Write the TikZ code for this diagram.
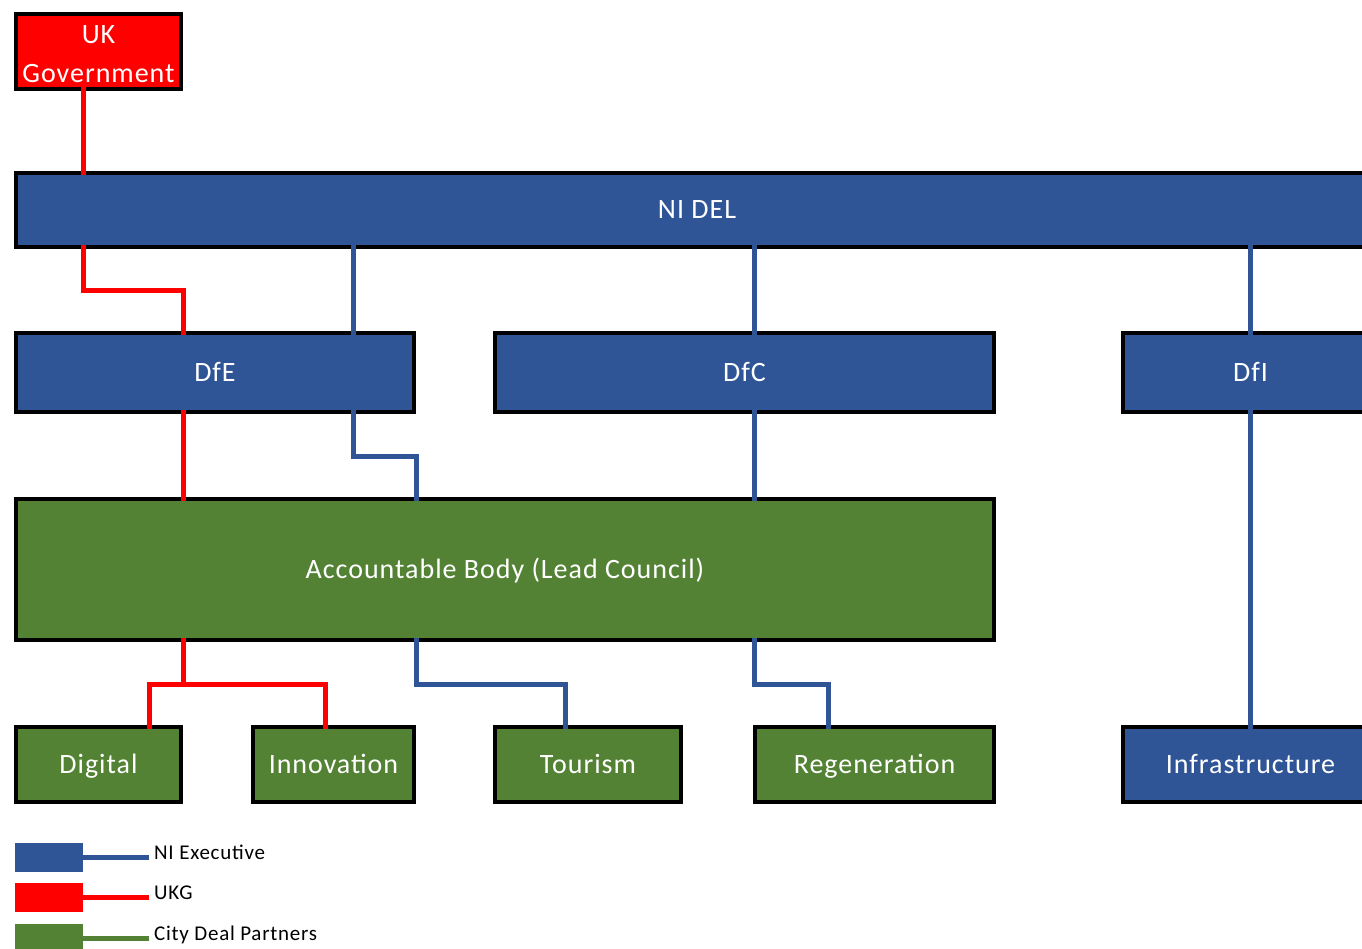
\documentclass[tikz,border=0pt]{standalone}
\usepackage{fontspec}
\setmainfont{Carlito}[LetterSpace=3.5]
\definecolor{niblue}{HTML}{2F5597}
\definecolor{ukred}{HTML}{FF0000}
\definecolor{cdgreen}{HTML}{548235}
\tikzset{
  box/.style={draw=black, line width=4pt, outer sep=0pt, inner sep=0pt,
    text=white, align=center, text height=24pt, text depth=6pt,
    font=\fontsize{28}{39}\selectfont},
  nibox/.style={box, fill=niblue},
  ukbox/.style={box, fill=ukred, text height=63pt, text depth=0pt},
  cdbox/.style={box, fill=cdgreen},
  link/.style={line width=5pt, shorten <=-2pt, shorten >=-2pt},
  nilink/.style={link, niblue},
  uklink/.style={link, ukred},
  keybox/.style={minimum width=68pt, minimum height=29pt, inner sep=0pt, outer sep=0pt},
  keytext/.style={anchor=base west, inner sep=5pt, font=\fontsize{21}{25}\selectfont}
}
\begin{document}
\begin{tikzpicture}[x=1pt, y=-1pt]
  \clip (0,0) rectangle (1362,949);
  \fill[white] (0,0) rectangle (1362,949);

  \node[ukbox, minimum width=165pt, minimum height=75pt] (ukg) at (98.5,51.5) {UK\\Government};
  \node[nibox, minimum width=1362pt, minimum height=74pt] (nidel) at (697,210) {NI DEL};

  \node[nibox, minimum width=398pt, minimum height=79pt] (dfe) at (215,372.5) {DfE};
  \node[nibox, minimum width=499pt, minimum height=79pt] (dfc) at (744.5,372.5) {DfC};
  \node[nibox, minimum width=255pt, minimum height=79pt] (dfi) at (1250.5,372.5) {DfI};

  \node[cdbox, minimum width=978pt, minimum height=141pt] (acc) at (505,569.5) {Accountable Body (Lead Council)};

  \node[cdbox, minimum width=165pt, minimum height=75pt] (digital) at (98.5,764.5) {Digital};
  \node[cdbox, minimum width=161pt, minimum height=75pt] (innov) at (333.5,764.5) {Innovation};
  \node[cdbox, minimum width=186pt, minimum height=75pt] (tourism) at (588,764.5) {Tourism};
  \node[cdbox, minimum width=239pt, minimum height=75pt] (regen) at (874.5,764.5) {Regeneration};
  \node[nibox, minimum width=255pt, minimum height=75pt] (infra) at (1250.5,764.5) {Infrastructure};

  \draw[uklink] ([xshift=67pt]ukg.south west) -- ([xshift=67pt]nidel.north west);
  \draw[uklink] ([xshift=67pt]nidel.south west) -- ++(0,44) -| ([xshift=167pt]dfe.north west);
  \draw[uklink] ([xshift=167pt]dfe.south west) -- ([xshift=167pt]acc.north west);
  \draw[uklink] ([xshift=167pt]acc.south west) -- ++(0,44);
  \draw[uklink] ([xshift=133pt]digital.north west) -- ++(0,-43) -| ([xshift=72pt]innov.north west);

  \draw[nilink] ([xshift=337pt]nidel.south west) -- ([xshift=337pt]dfe.north west);
  \draw[nilink] ([xshift=738pt]nidel.south west) -- ([xshift=259pt]dfc.north west);
  \draw[nilink] ([xshift=1234pt]nidel.south west) -- ([xshift=127pt]dfi.north west);
  \draw[nilink] ([xshift=337pt]dfe.south west) -- ++(0,44) -| ([xshift=400pt]acc.north west);
  \draw[nilink] ([xshift=259pt]dfc.south west) -- ([xshift=738pt]acc.north west);
  \draw[nilink] ([xshift=400pt]acc.south west) -- ++(0,44) -| ([xshift=70pt]tourism.north west);
  \draw[nilink] ([xshift=738pt]acc.south west) -- ++(0,44) -| ([xshift=73pt]regen.north west);
  \draw[nilink] ([xshift=127pt]dfi.south west) -- ([xshift=127pt]infra.north west);

  \node[keybox, fill=niblue] (keyni) at (49,857.5) {};
  \node[keybox, fill=ukred] (keyuk) at (49,897.5) {};
  \node[keybox, fill=cdgreen] (keycd) at (49,938.5) {};
  \node[keytext] (txtni) at (149,859) {NI Executive};
  \node[keytext] (txtuk) at (149,899) {UKG};
  \node[keytext] (txtcd) at (149,940) {City Deal Partners};
  \draw[niblue, line width=5pt] (keyni.east) -- (keyni.east -| txtni.west);
  \draw[ukred, line width=5pt] (keyuk.east) -- (keyuk.east -| txtuk.west);
  \draw[cdgreen, line width=5pt] (keycd.east) -- (keycd.east -| txtcd.west);
\end{tikzpicture}
\end{document}
